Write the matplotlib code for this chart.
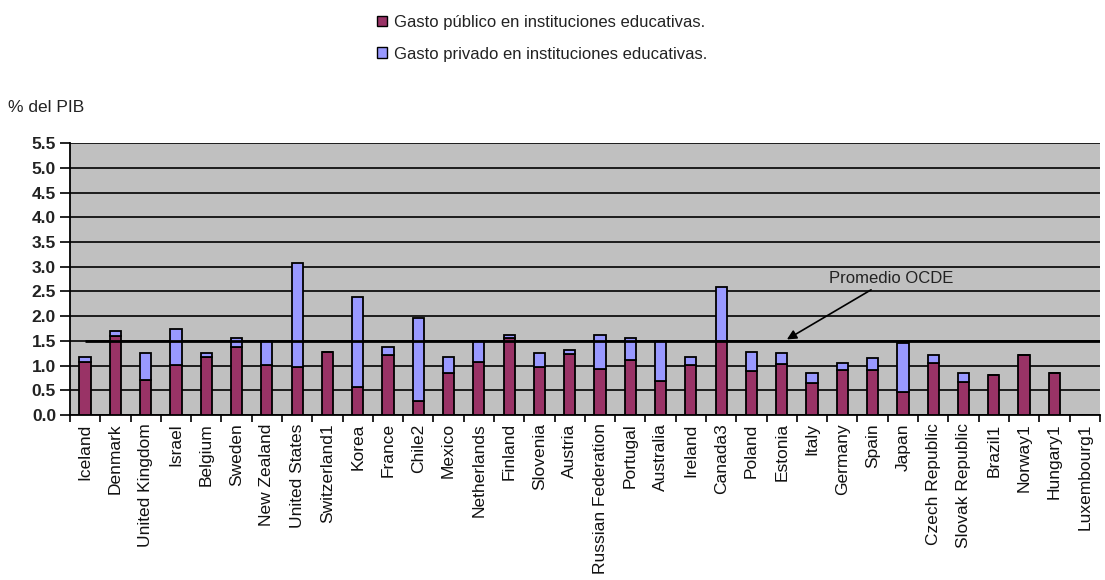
import numpy as np
import matplotlib
matplotlib.use("Agg")
import matplotlib.pyplot as plt
from matplotlib.patches import Patch

plt.rcParams['font.family'] = ['Liberation Sans', 'DejaVu Sans']

countries = ["Iceland", "Denmark", "United Kingdom", "Israel", "Belgium", "Sweden",
             "New Zealand", "United States", "Switzerland1", "Korea", "France", "Chile2",
             "Mexico", "Netherlands", "Finland", "Slovenia", "Austria", "Russian Federation",
             "Portugal", "Australia", "Ireland", "Canada3", "Poland", "Estonia", "Italy",
             "Germany", "Spain", "Japan", "Czech Republic", "Slovak Republic", "Brazil1",
             "Norway1", "Hungary1", "Luxembourg1"]
public = [1.07, 1.60, 0.71, 1.01, 1.18, 1.38, 1.01, 0.98, 1.28, 0.56, 1.21, 0.28,
          0.86, 1.08, 1.55, 0.98, 1.23, 0.94, 1.11, 0.69, 1.01, 1.50, 0.90, 1.03,
          0.64, 0.91, 0.91, 0.46, 1.05, 0.67, 0.81, 1.21, 0.86, 0.0]
total = [1.18, 1.69, 1.25, 1.75, 1.25, 1.55, 1.49, 3.08, 1.28, 2.39, 1.38, 1.97,
         1.18, 1.49, 1.62, 1.25, 1.32, 1.61, 1.55, 1.50, 1.18, 2.60, 1.28, 1.25,
         0.86, 1.05, 1.15, 1.45, 1.21, 0.86, 0.81, 1.21, 0.86, 0.0]
oecd_avg = 1.5
yticks = np.arange(0, 5.51, 0.5)

public = np.array(public)
private = np.array(total) - public
x = np.arange(len(countries))

fig = plt.figure(figsize=(11.05, 5.8), dpi=100)
ax = fig.add_axes([0.0633, 0.2845, 0.932, 0.4685])
ax.set_facecolor('#C0C0C0')

w = 0.37
ax.bar(x, public, w, color='#993366', edgecolor='black', linewidth=1.3, zorder=3)
ax.bar(x, private, w, bottom=public, color='#9999FF', edgecolor='black', linewidth=1.3, zorder=3)

# OECD average line + label
ax.hlines(oecd_avg, 0.0, len(countries) - 0.45, color='black', linewidth=2, zorder=4)
ax.annotate('Promedio OCDE', xy=(23.17, 1.53), xytext=(24.55, 2.77),
            fontsize=12, color='#222222', ha='left', va='center',
            arrowprops=dict(arrowstyle='-|>', color='black', lw=1.2, mutation_scale=14,
                            shrinkA=2, shrinkB=0))

ax.set_ylim(0, 5.5)
ax.set_xlim(-0.5, len(countries) - 0.5)
ax.set_yticks(yticks)
ax.set_yticklabels([f'{v:.1f}' for v in yticks], fontsize=12.5, fontweight='bold', color='#222222')
ax.yaxis.grid(True, color='black', linewidth=1.2, zorder=0)
ax.set_axisbelow(True)
ax.tick_params(axis='y', direction='out', length=7, width=1.2, pad=3)

ax.set_xticks(x)
ax.set_xticklabels(countries, rotation=90, fontsize=12.5, color='#111111')
ax.tick_params(axis='x', which='major', length=0, pad=6)
ax.set_xticks(np.arange(-0.5, len(countries)), minor=True)
ax.tick_params(axis='x', which='minor', direction='out', length=5, width=1.2)

for s in ['top', 'right']:
    ax.spines[s].set_visible(False)
for s in ['left', 'bottom']:
    ax.spines[s].set_linewidth(1.3)

fig.text(8 / 1105, 1 - 108 / 580, '% del PIB', fontsize=12.5, color='#222222', va='center')

handles = [Patch(facecolor='#993366', edgecolor='black'),
           Patch(facecolor='#9999FF', edgecolor='black')]
labels = ['Gasto público en instituciones educativas.',
          'Gasto privado en instituciones educativas.']
fig.legend(handles, labels, loc='upper left', bbox_to_anchor=(362 / 1105, 1 - 0 / 580),
           frameon=False, fontsize=12, handlelength=0.6, handleheight=0.6,
           handletextpad=0.4, labelspacing=1.0, labelcolor='#222222')

fig.savefig('out.png', dpi=100)
